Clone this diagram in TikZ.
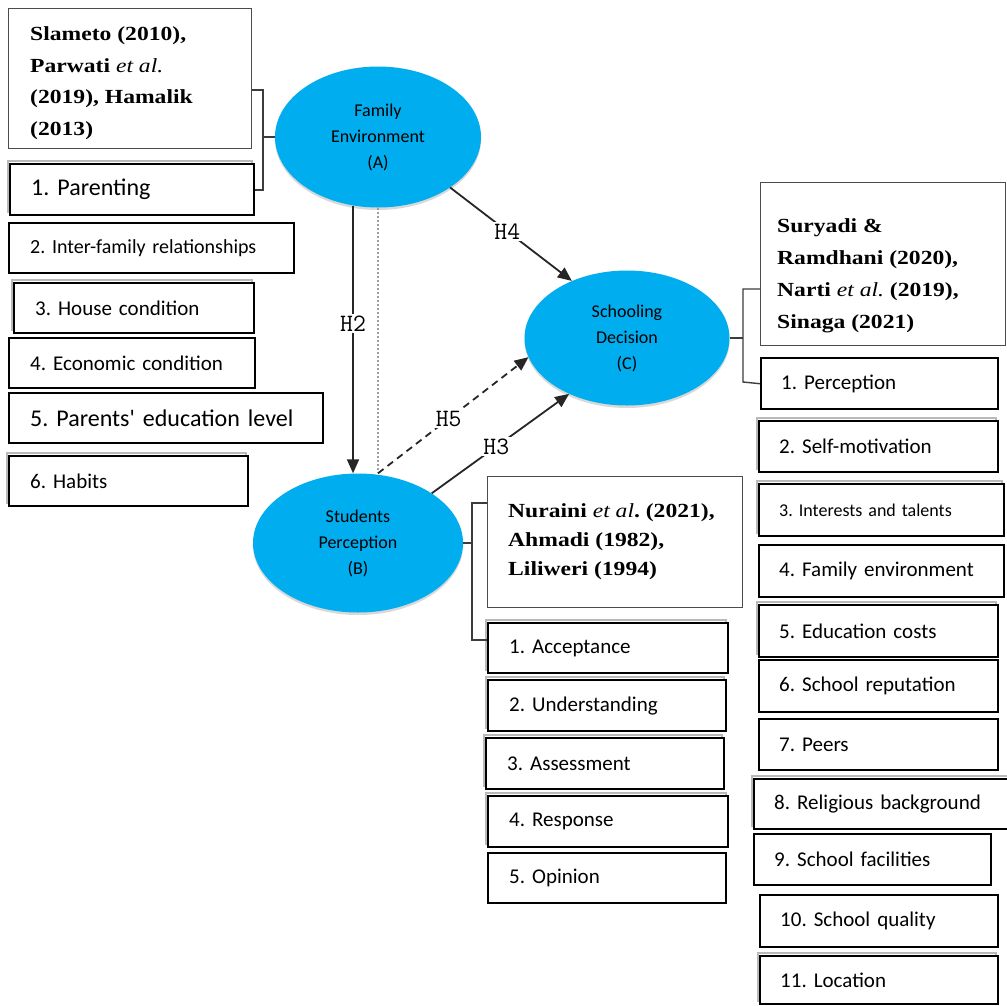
\documentclass[tikz,border=0pt]{standalone}
\usepackage{fontspec}
\setmainfont{Carlito}
\newfontfamily\citefont[FakeStretch=1.18]{Liberation Serif}
\usetikzlibrary{arrows.meta,shapes.geometric,shadows}
\definecolor{cyanfill}{RGB}{0,174,239}
\definecolor{brkgray}{RGB}{60,60,60}
\frenchspacing
\begin{document}
\frenchspacing
\begin{tikzpicture}[x=1pt,y=-1pt,
  itembox/.style={draw=black, line width=2.4pt, fill=white, rectangle, anchor=north west, inner xsep=0pt, inner ysep=0pt, align=left, font=\fontsize{21}{25}\selectfont},
  ghost/.style={copy shadow={shadow xshift=-2pt, shadow yshift=3pt, draw=gray!55, line width=1.5pt, fill=white}},
  citebox/.style={draw=black!70, line width=1.2pt, fill=white, rectangle, anchor=north west, inner sep=0pt},
  citetext/.style={anchor=north west, inner sep=0pt, align=left},
  construct/.style={ellipse, fill=cyanfill, inner sep=0pt, align=center, font=\fontsize{18}{26}\selectfont, drop shadow={shadow xshift=0pt, shadow yshift=-2.5pt, opacity=0.3}},
  link/.style={line width=1.8pt, draw=black!85, -{Triangle[length=14pt,width=12pt]}},
  hyp/.style={fill=white, inner sep=1.5pt, font=\ttfamily\fontsize{25}{25}\selectfont, text=black},
  brk/.style={draw=brkgray, line width=1.4pt},
]
\path[use as bounding box, fill=white] (0,0) rectangle (1007,1005);

% citation boxes
\node[citebox, minimum width=243pt, minimum height=140pt] (c1) at (8,8) {};
\node[citetext, font=\citefont\bfseries\fontsize{20}{31.7}\selectfont] (c1t) at (30,26.5)
  {Slameto (2010),\\ Parwati \textit{\mdseries et al.}\\ (2019), Hamalik\\ (2013)};
\node[citebox, minimum width=245pt, minimum height=163pt] (c2) at (760,182) {};
\node[citetext, font=\citefont\bfseries\fontsize{20}{32}\selectfont] (c2t) at (777,218.5)
  {Suryadi \&\\ Ramdhani (2020),\\ Narti \textit{\mdseries et al.} (2019),\\ Sinaga (2021)};
\node[citebox, minimum width=255pt, minimum height=131pt] (c3) at (487,476) {};
\node[citetext, font=\citefont\bfseries\fontsize{20}{29}\selectfont] (c3t) at (508,503.5)
  {Nuraini \textit{\mdseries et al}. (2021),\\ Ahmadi (1982),\\ Liliweri (1994)};

% left items
\node[itembox, ghost, minimum width=244pt, minimum height=51pt, text width=202pt, font=\fontsize{24}{28}\selectfont] (p1) at (9,163) {1. Parenting};
\node[itembox, minimum width=285pt, minimum height=50pt, text width=243pt, font=\fontsize{20}{24}\selectfont] (p2) at (8,222) {2. Inter-family relationships};
\node[itembox, ghost, minimum width=240pt, minimum height=50pt, text width=198pt] (p3) at (13,282) {3. House condition};
\node[itembox, minimum width=246pt, minimum height=50pt, text width=204pt] (p4) at (8,337) {4. Economic condition};
\node[itembox, minimum width=314pt, minimum height=50pt, text width=272pt, font=\fontsize{24}{28}\selectfont] (p5) at (8,392) {5. Parents\textquotesingle{} education level};
\node[itembox, ghost, minimum width=239pt, minimum height=50pt, text width=197pt] (p6) at (8,455) {6. Habits};

% middle items
\node[itembox, ghost, minimum width=240pt, minimum height=50pt, text width=198pt] (m1) at (487,622) {1. Acceptance};
\node[itembox, ghost, minimum width=238pt, minimum height=51pt, text width=196pt] (m2) at (487,679) {2. Understanding};
\node[itembox, ghost, minimum width=238pt, minimum height=51pt, text width=196pt] (m3) at (485,737) {3. Assessment};
\node[itembox, ghost, minimum width=240pt, minimum height=51pt, text width=198pt] (m4) at (487,795) {4. Response};
\node[itembox, minimum width=238pt, minimum height=50pt, text width=196pt] (m5) at (487,852) {5. Opinion};

% right items
\node[itembox, minimum width=237pt, minimum height=51pt, text width=197pt] (r1) at (760,357) {1. Perception};
\node[itembox, ghost, minimum width=239pt, minimum height=51pt, text width=199pt] (r2) at (758,420) {2. Self-motivation};
\node[itembox, ghost, minimum width=245pt, minimum height=52pt, text width=205pt, font=\fontsize{18}{22}\selectfont] (r3) at (758,483) {3. Interests and talents};
\node[itembox, minimum width=245pt, minimum height=52pt, text width=205pt] (r4) at (758,544) {4. Family environment};
\node[itembox, ghost, minimum width=239pt, minimum height=52pt, text width=199pt] (r5) at (758,604) {5. Education costs};
\node[itembox, minimum width=239pt, minimum height=52pt, text width=199pt] (r6) at (758,659) {6. School reputation};
\node[itembox, minimum width=239pt, minimum height=51pt, text width=199pt] (r7) at (758,718) {7. Peers};
\node[itembox, ghost, minimum width=260pt, minimum height=50pt, text width=220pt] (r8) at (753,778) {8. Religious background};
\node[itembox, minimum width=237pt, minimum height=51pt, text width=197pt] (r9) at (753,833) {9. School facilities};
\node[itembox, minimum width=238pt, minimum height=52pt, text width=198pt] (r10) at (759,894) {10. School quality};
\node[itembox, ghost, minimum width=238pt, minimum height=48pt, text width=198pt] (r11) at (759,955) {11. Location};

% constructs
\node[construct, minimum width=206pt, minimum height=141pt] (A) at (378,137) {Family\\Environment\\(A)};
\node[construct, minimum width=210pt, minimum height=139pt] (B) at (358,543) {Students\\Perception\\(B)};
\node[construct, minimum width=205pt, minimum height=135pt] (C) at (627,338) {Schooling\\Decision\\(C)};

% brackets
\coordinate (kA) at (263,137);
\coordinate (kB) at (472,543);
\coordinate (kC) at (743,338);
\draw[brk] (c1.east |- 0,90) -- (263,90) -- (263,190) -- (p1.east |- 0,190);
\draw[brk] (A.west) -- (kA);
\draw[brk] (c3.west |- 0,503) -- (472,503) -- (472,640) -- (m1.west |- 0,640);
\draw[brk] (B.east) -- (kB);
\draw[brk] (c2.west |- 0,289) -- (743,289) -- (743,382) -- (r1.west);
\draw[brk] (C.east) -- (kC);

% paths
\coordinate (bt) at (A.south |- B.north);
\draw[draw=gray!75, line width=2.2pt, dash pattern=on 2.5pt off 1.5pt] (A.south) -- (bt);
\draw[link] (A.250) -- node[hyp, pos=0.44] (h2) {H2} (A.250 |- B.north);
\draw[link] (A.-35) -- node[hyp, pos=0.47] (h4) {H4} (C.134);
\draw[link, dash pattern=on 7pt off 5pt] (bt) -- node[hyp, pos=0.47] (h5) {H5} (C.191);
\draw[link] (B.34) -- node[hyp, pos=0.47] (h3) {H3} (C.224);
\end{tikzpicture}
\end{document}
